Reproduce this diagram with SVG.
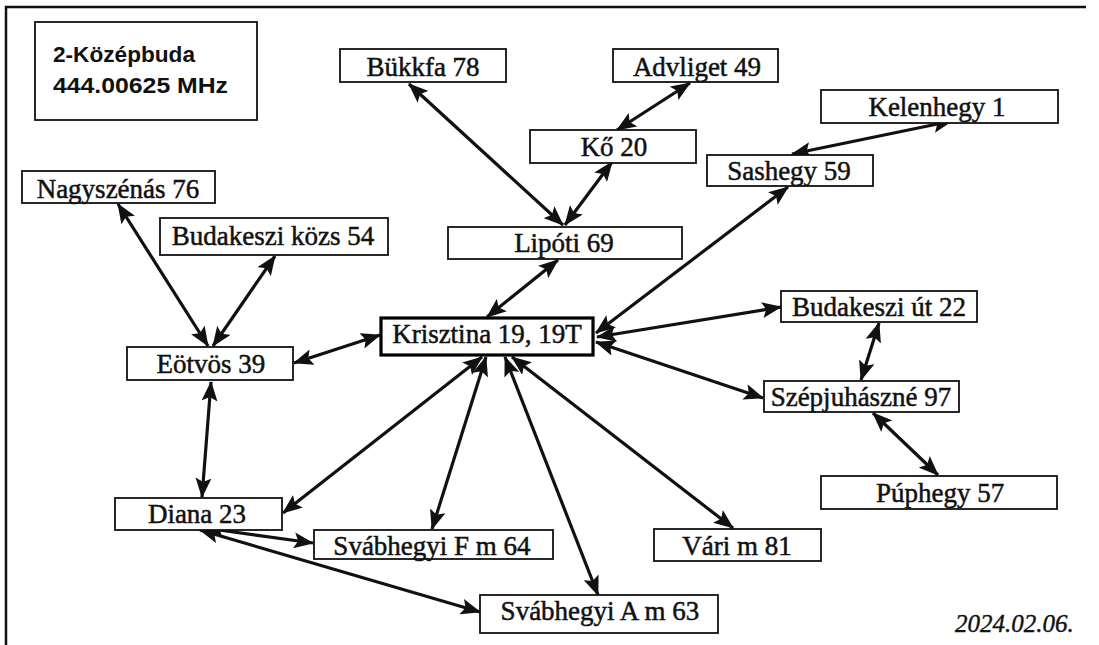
<svg xmlns="http://www.w3.org/2000/svg" width="1099" height="645" viewBox="0 0 1099 645">
<style>
.box{fill:#fff;stroke:#111;stroke-width:1.8}
.main{fill:#fff;stroke:#000;stroke-width:3.2}
.lbl{font-family:"Liberation Serif","Times New Roman",serif;font-size:27px;fill:#111;stroke:#111;stroke-width:0.5;text-anchor:middle}
.title{font-family:"Liberation Sans",Arial,sans-serif;font-weight:bold;font-size:22px;fill:#111}
.date{font-family:"Liberation Serif","Times New Roman",serif;font-style:italic;font-size:25px;fill:#111;stroke:#111;stroke-width:0.4}
.c{stroke:#111;stroke-width:3.2;fill:none;marker-start:url(#ah);marker-end:url(#ah)}
</style>
<defs>
<marker id="ah" markerUnits="userSpaceOnUse" markerWidth="20" markerHeight="16" refX="19" refY="8" orient="auto-start-reverse" viewBox="0 0 20 16">
<path d="M0,0 L20,8 L0,16 L4,8 Z" fill="#111"/>
</marker>
</defs>
<rect width="1099" height="645" fill="#fff"/>
<polyline points="6,645 6,7 1086,7" fill="none" stroke="#111" stroke-width="2.5"/>

<g id="connectors">
<line class="c" x1="409" y1="84" x2="563" y2="225"/>
<line class="c" x1="690" y1="83" x2="617" y2="130"/>
<line class="c" x1="612" y1="162" x2="565" y2="225"/>
<line class="c" x1="952" y1="121" x2="792" y2="154"/>
<line class="c" x1="788" y1="187" x2="596" y2="333"/>
<line class="c" x1="597" y1="337" x2="781" y2="307"/>
<line class="c" x1="879" y1="323" x2="861" y2="380"/>
<line class="c" x1="596" y1="342" x2="763" y2="398"/>
<line class="c" x1="873" y1="413" x2="938" y2="475"/>
<line class="c" x1="512" y1="357" x2="733" y2="528"/>
<line class="c" x1="505" y1="357" x2="598" y2="595"/>
<line class="c" x1="486" y1="357" x2="432" y2="529"/>
<line class="c" x1="482" y1="357" x2="283" y2="513"/>
<line class="c" x1="380" y1="335" x2="294" y2="363"/>
<line class="c" x1="558" y1="260" x2="487" y2="317"/>
<line class="c" x1="118" y1="204" x2="208" y2="346"/>
<line class="c" x1="275" y1="256" x2="213" y2="346"/>
<line class="c" x1="211" y1="382" x2="202" y2="497"/>
<line class="c" x1="205" y1="528" x2="313" y2="543"/>
<line class="c" x1="200" y1="530" x2="480" y2="612"/>
</g>

<g id="title">
<rect class="box" x="35" y="22" width="222" height="98"/>
<text class="title" x="53" y="62" textLength="142" lengthAdjust="spacingAndGlyphs">2-Középbuda</text>
<text class="title" x="53" y="93" textLength="175" lengthAdjust="spacingAndGlyphs">444.00625 MHz</text>
</g>

<g id="nagyszenas"><rect class="box" x="22" y="171" width="193" height="32"/><text class="lbl" x="118" y="198">Nagyszénás 76</text></g>
<g id="budakeszi-kozs"><rect class="box" x="160" y="218" width="228" height="37"/><text class="lbl" x="273" y="245">Budakeszi közs 54</text></g>
<g id="bukkfa"><rect class="box" x="340" y="49" width="166" height="33"/><text class="lbl" x="423" y="76">Bükkfa 78</text></g>
<g id="advliget"><rect class="box" x="613" y="49" width="165" height="33"/><text class="lbl" x="697" y="76">Advliget 49</text></g>
<g id="ko"><rect class="box" x="530" y="130" width="166" height="33"/><text class="lbl" x="614" y="156">Kő 20</text></g>
<g id="lipoti"><rect class="box" x="448" y="227" width="234" height="32"/><text class="lbl" x="564" y="252">Lipóti 69</text></g>
<g id="sashegy"><rect class="box" x="707" y="155" width="166" height="31"/><text class="lbl" x="789" y="180">Sashegy 59</text></g>
<g id="kelenhegy"><rect class="box" x="821" y="90" width="237" height="33"/><text class="lbl" x="937" y="116">Kelenhegy 1</text></g>
<g id="budakeszi-ut"><rect class="box" x="781" y="291" width="196" height="31"/><text class="lbl" x="879" y="316">Budakeszi út 22</text></g>
<g id="krisztina"><rect class="main" x="381" y="318" width="212" height="37"/><text class="lbl" x="487" y="343">Krisztina 19, 19T</text></g>
<g id="eotvos"><rect class="box" x="127" y="347" width="166" height="33"/><text class="lbl" x="211" y="373">Eötvös 39</text></g>
<g id="diana"><rect class="box" x="115" y="498" width="167" height="32"/><text class="lbl" x="197" y="523">Diana 23</text></g>
<g id="svabhegyi-f"><rect class="box" x="314" y="530" width="239" height="29"/><text class="lbl" x="432" y="555">Svábhegyi F m 64</text></g>
<g id="svabhegyi-a"><rect class="box" x="480" y="595" width="238" height="38"/><text class="lbl" x="600" y="620">Svábhegyi A m 63</text></g>
<g id="szepjuhaszne"><rect class="box" x="764" y="381" width="195" height="31"/><text class="lbl" x="861" y="406">Szépjuhászné 97</text></g>
<g id="puphegy"><rect class="box" x="821" y="476" width="236" height="33"/><text class="lbl" x="940" y="502">Púphegy 57</text></g>
<g id="vari"><rect class="box" x="654" y="529" width="167" height="32"/><text class="lbl" x="737" y="555">Vári m 81</text></g>

<text class="date" x="955" y="632">2024.02.06.</text>
</svg>
